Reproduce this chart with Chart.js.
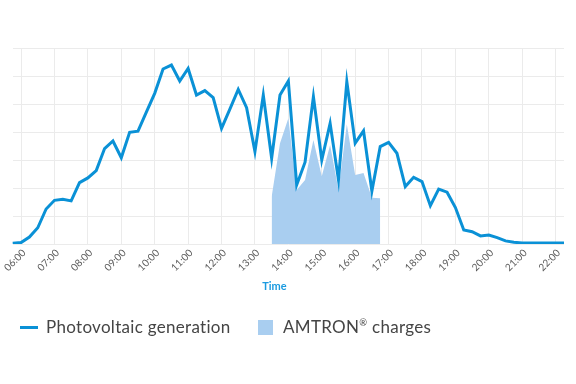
<!DOCTYPE html>
<html><head><meta charset="utf-8">
<script src="https://cdn.jsdelivr.net/npm/chart.js@4"></script>
<style>
html,body{margin:0;padding:0;background:#fff;}
#wrap{position:relative;width:576px;height:384px;overflow:hidden;}
.item{position:absolute;top:317px;height:20px;display:flex;align-items:center;font-family:Lato, sans-serif;font-size:17px;letter-spacing:0.3px;line-height:20px;color:#454545;white-space:nowrap;}
.line{width:18px;height:3px;background:#0a91d6;margin-right:8px;}
.box{width:15px;height:15px;background:#a9cef0;margin-right:10px;}
sup{font-size:0.55em;vertical-align:0.75em;line-height:0;}
</style></head><body>
<div id="wrap"><canvas id="c" width="576" height="384"></canvas>
<div class="item" style="left:20px"><span class="line"></span><span id="l1">Photovoltaic generation</span></div>
<div class="item" style="left:258px"><span class="box"></span><span id="l2">AMTRON<sup>®</sup> charges</span></div>
</div>
<script>
const times = ["05:45","06:00","06:15","06:30","06:45","07:00","07:15","07:30","07:45",
"08:00","08:15","08:30","08:45","09:00","09:15","09:30","09:45",
"10:00","10:15","10:30","10:45","11:00","11:15","11:30","11:45",
"12:00","12:15","12:30","12:45","13:00","13:15","13:30","13:45",
"14:00","14:15","14:30","14:45","15:00","15:15","15:30","15:45",
"16:00","16:15","16:30","16:45","17:00","17:15","17:30","17:45",
"18:00","18:15","18:30","18:45","19:00","19:15","19:30","19:45",
"20:00","20:15","20:30","20:45","21:00","21:15","21:30","21:45",
"22:00","22:15"];
const pvGeneration = [0.03,0.05,0.25,0.58,1.25,1.56,1.6,1.54,2.19,
2.36,2.62,3.41,3.68,3.08,3.99,4.03,4.71,
5.38,6.25,6.39,5.82,6.27,5.32,5.48,5.23,
4.13,4.82,5.52,4.87,3.30,5.32,3.06,5.32,
5.82,2.11,2.92,5.26,3.0,4.31,2.29,5.8,
3.6,4.04,1.89,3.48,3.63,3.24,2.05,2.38,
2.23,1.37,1.96,1.85,1.30,0.5,0.44,0.29,
0.32,0.23,0.11,0.06,0.04,0.04,0.04,0.04,
0.04,0.04];
const amtronCharges = [null,null,null,null,null,null,null,null,null,
null,null,null,null,null,null,null,null,
null,null,null,null,null,null,null,null,
null,null,null,null,null,null,1.69,3.6,
4.49,1.93,2.29,3.71,2.42,3.54,1.93,4.28,
2.46,2.54,1.65,1.63,null,null,null,null,
null,null,null,null,null,null,null,null,
null,null,null,null,null,null,null,null,
null,null];
const seriesNames = ["Photovoltaic generation", "AMTRON® charges"];
const axisTitle = "Time";
const yMin = 0, yMax = 7;

const BLUE = '#0a91d6';
const timeTitle = {
  id: 'timeTitle',
  afterDraw(chart) {
    const {ctx, chartArea} = chart;
    ctx.save();
    ctx.font = 'bold 11px Lato, sans-serif';
    ctx.fillStyle = '#1b9be0';
    ctx.textAlign = 'center';
    ctx.textBaseline = 'middle';
    ctx.fillText(axisTitle, (chartArea.left + chartArea.right) / 2 - 14, chartArea.bottom + 42);
    ctx.restore();
  }
};

new Chart(document.getElementById('c'), {
  type: 'line',
  data: {
    labels: times,
    datasets: [
      {label: seriesNames[0], data: pvGeneration, borderColor: BLUE, borderWidth: 3,
       pointRadius: 0, tension: 0, fill: false, order: 0},
      {label: seriesNames[1], data: amtronCharges, borderWidth: 0, borderColor: 'rgba(0,0,0,0)',
       backgroundColor: '#a9cef0', pointRadius: 0, tension: 0, fill: 'origin', order: 1}
    ]
  },
  options: {
    responsive: false,
    animation: false,
    devicePixelRatio: 1,
    layout: {padding: {top: 48, left: 12.7, right: 12, bottom: 100}},
    plugins: {legend: {display: false}, title: {display: false}, tooltip: {enabled: false}},
    scales: {
      x: {
        type: 'category',
        offset: false,
        border: {display: false},
        grid: {color: '#ebebeb', lineWidth: 1, drawTicks: false},
        ticks: {
          autoSkip: false, minRotation: 45, maxRotation: 45, padding: 3, labelOffset: 3,
          color: '#595959', font: {family: 'Lato, sans-serif', size: 10},
          callback: function(v, i) { return times[i].endsWith(':00') ? times[i] : null; }
        },
        afterFit(scale) { scale.height = 40; scale.paddingLeft = 0; scale.paddingRight = 0; }
      },
      y: {
        min: yMin, max: yMax,
        border: {display: false},
        grid: {color: '#ebebeb', lineWidth: 1, drawTicks: false},
        ticks: {display: false, stepSize: 1},
        afterFit(scale) { scale.width = 0; }
      }
    }
  },
  plugins: [timeTitle]
});
</script>
</body></html>
